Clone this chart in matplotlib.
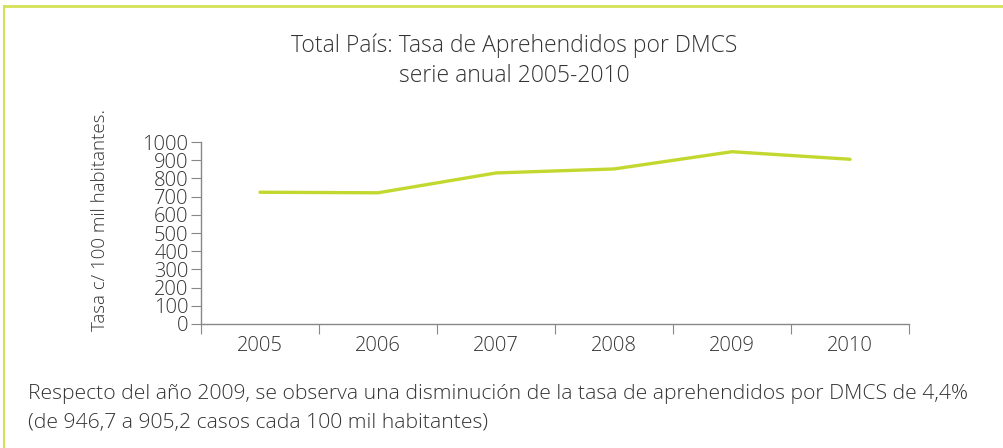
import matplotlib.pyplot as plt
from matplotlib.lines import Line2D

years = ["2005", "2006", "2007", "2008", "2009", "2010"]
tasa = [724, 721, 830, 852, 946.7, 905.2]
y_ticks = [0, 100, 200, 300, 400, 500, 600, 700, 800, 900, 1000]

plt.rcParams['font.family'] = ['Open Sans', 'DejaVu Sans']
plt.rcParams['font.weight'] = 'light'

fig = plt.figure(figsize=(10.04, 4.48), dpi=100)
ax = fig.add_axes([0.2002, 0.2768, 0.7052, 0.4062])

x = list(range(len(years)))
ax.plot(x, tasa, color="#c3d82e", linewidth=2.4, solid_capstyle="round")

ax.set_xlim(-0.5, len(years) - 0.5)
ax.set_ylim(0, 1000)
ax.set_yticks(y_ticks)
ax.set_yticklabels([str(v) for v in y_ticks])
ax.set_xticks([i - 0.5 for i in range(len(years) + 1)])
ax.set_xticklabels([])
ax.set_xticks(x, minor=True)
ax.set_xticklabels(years, minor=True)
ax.tick_params(axis="x", which="minor", length=0, pad=9, labelsize=14.5, labelcolor="#333333")
ax.tick_params(axis="x", which="major", length=7, color="#888888", direction="out")
ax.tick_params(axis="y", length=7, color="#888888", pad=2, labelsize=14.5, labelcolor="#333333")

for s in ["top", "right"]:
    ax.spines[s].set_visible(False)
for s in ["left", "bottom"]:
    ax.spines[s].set_color("#888888")
    ax.spines[s].set_linewidth(1)

fig.text(0.0996, 0.509, "Tasa c/ 100 mil habitantes.", rotation=90, ha="center", va="center",
         fontsize=13.5, fontweight="light", color="#333333")

fig.text(0.5125, 0.898, "Total País: Tasa de Aprehendidos por DMCS", ha="center", va="center",
         fontsize=16.5, color="#333333")
fig.text(0.5125, 0.83, "serie anual 2005-2010", ha="center", va="center",
         fontsize=16.5, color="#333333")

fig.text(0.028, 0.12, "Respecto del año 2009, se observa una disminución de la tasa de aprehendidos por DMCS de 4,4%",
         ha="left", va="center", fontsize=15.2, color="#333333")
fig.text(0.028, 0.055, "(de 946,7 a 905,2 casos cada 100 mil habitantes)",
         ha="left", va="center", fontsize=15.2, color="#333333")

# marco verde
fig.add_artist(Line2D([0.004, 1.0], [0.987, 0.987], transform=fig.transFigure, color="#d4e157", linewidth=2))
fig.add_artist(Line2D([0.004, 0.004], [0.0, 0.987], transform=fig.transFigure, color="#d4e157", linewidth=1.5))

fig.savefig("out.png", dpi=100)
